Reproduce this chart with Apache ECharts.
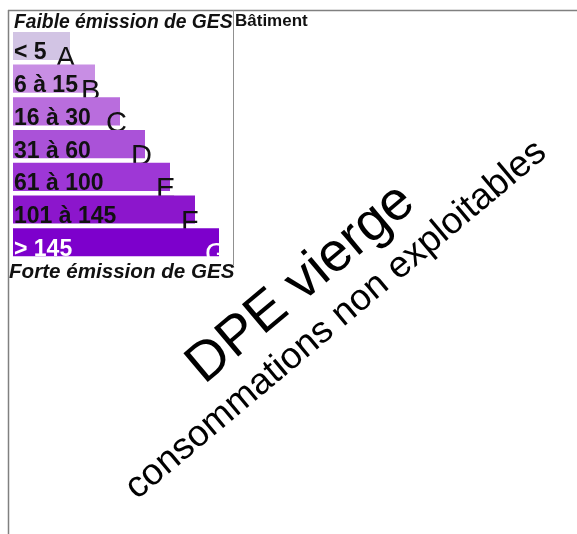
<!DOCTYPE html>
<html>
<head>
<meta charset="utf-8">
<script src="https://cdn.jsdelivr.net/npm/echarts@6/dist/echarts.min.js"></script>
<style>
html,body{margin:0;padding:0;background:#fff;}
#chart{width:577px;height:534px;}
</style>
</head>
<body>
<div id="chart"></div>
<script>
// ---- data ----
const classes = ['A', 'B', 'C', 'D', 'E', 'F', 'G'];
const ranges = ['< 5', '6 à 15', '16 à 30', '31 à 60', '61 à 100', '101 à 145', '> 145'];
const barLengths = [2.28, 3.28, 4.28, 5.28, 6.28, 7.28, 8.24];
const barColors = ['#d2c4e4', '#c88ee4', '#b96ddd', '#aa52d8', '#9e37d6', '#8c16cc', '#7d00cc'];
const topLabel = 'Faible émission de GES';
const bottomLabel = 'Forte émission de GES';
const columnLabel = 'Bâtiment';
const stampMain = 'DPE vierge';
const stampSub = 'consommations non exploitables';

const FONT = '"Liberation Sans", Arial, Helvetica, sans-serif';
const seriesData = classes.map((c, i) => [i, barLengths[i]]);

const chart = echarts.init(document.getElementById('chart'), null, {renderer: 'canvas'});
const deg = Math.PI / 180;

chart.setOption({
  animation: false,
  backgroundColor: '#ffffff',
  grid: {left: 13, top: 29.6, width: 250, height: 229, containLabel: false},
  xAxis: {type: 'value', min: 0, max: 10, show: false},
  yAxis: {type: 'category', data: classes, inverse: true, show: false},
  series: [{
    type: 'custom',
    data: seriesData,
    encode: {x: 1, y: 0},
    renderItem: function (params, api) {
      const idx = api.value(0);
      const v = api.value(1);
      const start = api.coord([0, idx]);
      const end = api.coord([v, idx]);
      const band = api.size([0, 1])[1];
      const h = band * 0.86;
      const top = start[1] - h / 2;
      const bottom = top + h;
      const last = idx === classes.length - 1;
      return {
        type: 'group',
        children: [
          {type: 'rect', shape: {x: start[0], y: top, width: end[0] - start[0], height: h},
           style: {fill: barColors[idx]}},
          {type: 'text', style: {text: ranges[idx], x: start[0] + 1, y: bottom - 7,
            verticalAlign: 'middle', align: 'left',
            font: 'bold 23px ' + FONT, fill: last ? '#ffffff' : '#111111'}},
          {type: 'text', style: {text: classes[idx], x: end[0] - 14, y: bottom - 1,
            verticalAlign: 'middle', align: 'left',
            font: '29px ' + FONT, fill: last ? '#ffffff' : '#111111'}}
        ]
      };
    }
  }],
  graphic: [
    {type: 'line', shape: {x1: 8, y1: 10.5, x2: 577, y2: 10.5}, style: {stroke: '#808080', lineWidth: 1.5}},
    {type: 'line', shape: {x1: 8.5, y1: 10, x2: 8.5, y2: 534}, style: {stroke: '#808080', lineWidth: 1.5}},
    {type: 'line', shape: {x1: 233.5, y1: 10, x2: 233.5, y2: 265}, style: {stroke: '#909090', lineWidth: 1}},
    {type: 'text', x: 14, y: 23, style: {text: topLabel, font: 'italic bold 19.3px ' + FONT, fill: '#111', verticalAlign: 'middle'}},
    {type: 'text', x: 9, y: 272, style: {text: bottomLabel, font: 'italic bold 20.6px ' + FONT, fill: '#111', verticalAlign: 'middle'}},
    {type: 'text', x: 235, y: 21, style: {text: columnLabel, font: 'bold 17px ' + FONT, fill: '#111', verticalAlign: 'middle'}},
    {type: 'text', x: 301, y: 284, rotation: 40 * deg, style: {text: stampMain, font: '55px ' + FONT, fill: '#000', align: 'center', verticalAlign: 'middle'}},
    {type: 'text', x: 336, y: 320, rotation: 40 * deg, style: {text: stampSub, font: '37px ' + FONT, fill: '#000', align: 'center', verticalAlign: 'middle'}}
  ]
});
</script>
</body>
</html>
